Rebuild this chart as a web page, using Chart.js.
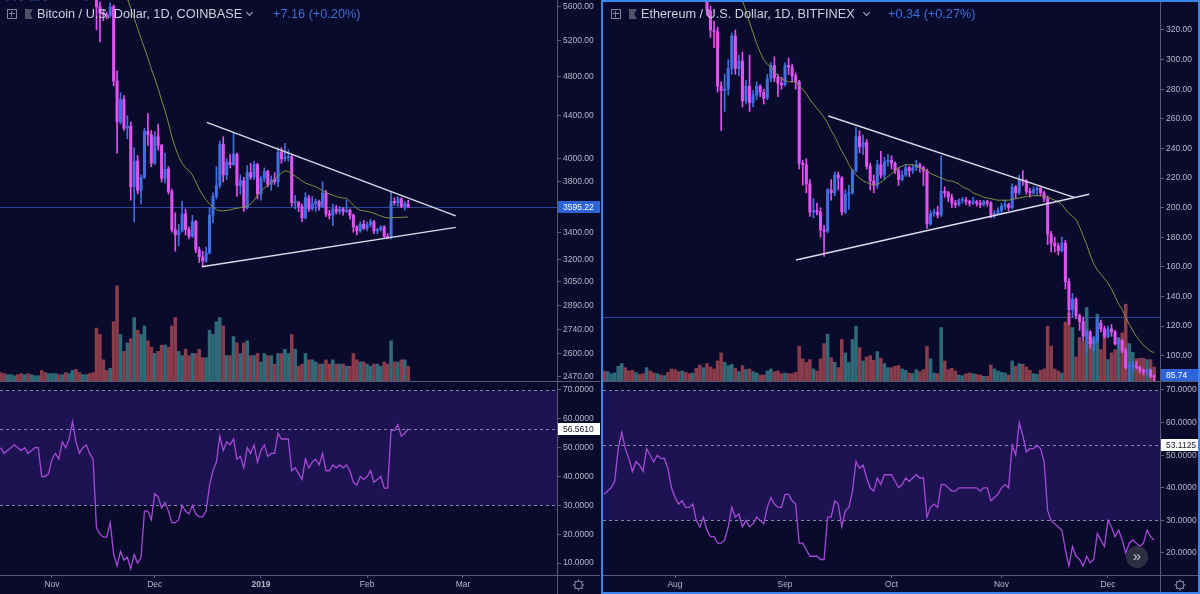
<!DOCTYPE html>
<html>
<head>
<meta charset="utf-8">
<title>BTC / ETH daily</title>
<script src="https://cdn.jsdelivr.net/npm/chart.js"></script>
<style>
html, body { margin: 0; padding: 0; }
body { width: 1200px; height: 594px; background: #0a0a2d; position: relative; overflow: hidden; font-family: "Liberation Sans", Arial, sans-serif; }
canvas { position: absolute; display: block; }
.line { position: absolute; background: #565a70; }
.legend { position: absolute; top: 7px; line-height: 14px; font-size: 12.7px; color: #cdd0dc; white-space: nowrap; }
.chg { position: absolute; top: 7px; line-height: 14px; font-size: 12.7px; color: #3c6fd8; white-space: nowrap; }
.box { position: absolute; top: 9px; width: 8px; height: 8px; border: 1px solid #80849a; }
.box:before { content: ''; position: absolute; left: 1px; top: 3px; width: 6px; height: 1px; background: #80849a; }
.box:after { content: ''; position: absolute; top: 1px; left: 3px; height: 6px; width: 1px; background: #80849a; }
.flag { position: absolute; top: 9px; width: 8px; height: 10px; background: #4f5368; clip-path: polygon(0 0, 100% 0, 65% 50%, 100% 100%, 0 100%); }
.chev { position: absolute; top: 10px; width: 4px; height: 4px; border-right: 1px solid #b0b3c2; border-bottom: 1px solid #b0b3c2; transform: rotate(45deg); }
#sel { position: absolute; left: 601px; top: 0; width: 599px; height: 594px; border: 2px solid #3d84ee; box-sizing: border-box; }
#more { position: absolute; left: 1126px; top: 546px; width: 22px; height: 22px; border-radius: 50%; background: #2c2f3f; color: #c3c6d2; font-size: 15px; line-height: 20px; text-align: center; }
</style>
</head>
<body>
<canvas id="btcPrice" width="600" height="381" style="left:0;top:0"></canvas>
<canvas id="btcRsi" width="600" height="213" style="left:0;top:381px"></canvas>
<canvas id="ethPrice" width="597" height="381" style="left:603px;top:0"></canvas>
<canvas id="ethRsi" width="597" height="213" style="left:603px;top:381px"></canvas>

<div class="line" style="left:0;top:381px;width:600px;height:1px"></div>
<div class="line" style="left:0;top:575px;width:600px;height:1px"></div>
<div class="line" style="left:557px;top:0;width:1px;height:594px"></div>
<div class="line" style="left:603px;top:381px;width:595px;height:1px"></div>
<div class="line" style="left:603px;top:575px;width:595px;height:1px"></div>
<div class="line" style="left:1160px;top:0;width:1px;height:594px"></div>

<div class="box" style="left:7px"></div>
<div class="flag" style="left:25px"></div>
<div class="legend" style="left:37px">Bitcoin / U.S. Dollar, 1D, COINBASE</div>
<div class="chev" style="left:247px"></div>
<div class="chg" style="left:273px">+7.16 (+0.20%)</div>

<div class="box" style="left:611px"></div>
<div class="flag" style="left:629px"></div>
<div class="legend" style="left:641px">Ethereum / U.S. Dollar, 1D, BITFINEX</div>
<div class="chev" style="left:864px"></div>
<div class="chg" style="left:888px">+0.34 (+0.27%)</div>

<div id="more">&raquo;</div>
<div id="sel"></div>

<script>
// ---------- Bitcoin, daily, 2018-10-17 .. 2019-02-13 ----------
const btcMonthIdx = [15, 45, 76, 107, 135];
const btcMonthLabels = ['Nov', 'Dec', '2019', 'Feb', 'Mar'];
const btcPriceTicks = [5600, 5200, 4800, 4400, 4000, 3800, 3400, 3200, 3050, 2890, 2740, 2600, 2470];
const btcRsiTicks = [70, 60, 50, 40, 30, 20, 10];

const btcOpen = [6540,6490,6430,6440,6460,6470,6450,6440,6460,6440,6450,6460,6460,6310,6300,6320,6370,6400,6370,6470,6430,6470,6540,6410,6350,6390,6400,6370,
  6330,5600,5520,5500,5490,5600,4750,4340,4560,4280,4300,3760,3980,3730,3840,4250,4220,
  3960,4200,4120,3830,3910,3720,3420,3380,3410,3540,3420,3370,3480,3270,3220,3190,3250,3530,3680,3770,4130,3860,3970,3950,4040,3770,3810,3590,3880,3840,3950,
  3700,3830,3890,3780,3820,3800,4060,4000,4010,4020,3630,3630,3600,3510,3670,3580,3620,3640,3600,3710,3540,3530,3580,3560,3580,3560,3570,3530,3440,3410,3460,
  3430,3460,3480,3410,3420,3440,3370,3360,3640,3630,3660,3600,3620];
const btcHigh = [6560,6510,6480,6470,6520,6490,6470,6520,6470,6480,6480,6480,6480,6330,6340,6390,6420,6410,6500,6480,6480,6560,6550,6420,6400,6420,6440,6380,
  6360,5660,5560,5530,5650,5620,4860,4630,4600,4400,4340,4100,4030,3860,4280,4420,4260,
  4250,4320,4130,4050,3930,3740,3550,3460,3640,3580,3440,3530,3490,3290,3260,3290,3590,3710,3930,4160,4200,4000,4040,4240,4050,3860,3840,3940,3960,3980,3960,
  3850,3920,3900,3850,3880,4100,4100,4140,4080,4040,3690,3640,3620,3710,3690,3680,3660,3650,3800,3730,3570,3620,3610,3600,3590,3650,3580,3540,3450,3480,3490,
  3480,3500,3490,3430,3450,3450,3390,3720,3670,3680,3670,3640,3650];
const btcLow = [6470,6400,6410,6420,6450,6430,6410,6430,6420,6420,6440,6440,6260,6280,6280,6310,6360,6340,6360,6410,6420,6460,6390,6330,6340,6350,6350,6300,
  5320,5180,5430,5450,5470,4700,4050,4320,4260,4180,3650,3480,3700,3620,3830,4120,3930,
  3950,4080,3800,3790,3700,3400,3260,3300,3400,3380,3350,3360,3250,3180,3150,3180,3240,3470,3660,3750,3800,3820,3920,3940,3680,3700,3560,3580,3820,3820,3660,
  3650,3800,3760,3730,3780,3760,3960,3980,3980,3600,3580,3560,3480,3500,3560,3570,3560,3570,3590,3520,3500,3450,3540,3540,3530,3550,3500,3400,3380,3400,3420,
  3410,3440,3390,3390,3410,3360,3350,3350,3610,3600,3590,3570,3590];
const btcClose = [6490,6430,6440,6460,6470,6450,6440,6460,6440,6450,6460,6460,6310,6300,6320,6370,6400,6370,6470,6430,6470,6540,6410,6350,6390,6400,6370,6330,
  5600,5520,5500,5490,5600,4750,4340,4560,4280,4300,3760,3980,3730,3840,4250,4220,3960,
  4200,4120,3830,3910,3720,3420,3380,3410,3540,3420,3370,3480,3270,3220,3190,3250,3530,3680,3770,4130,3860,3970,3950,4040,3770,3810,3590,3880,3840,3950,3700,
  3830,3890,3780,3820,3800,4060,4000,4010,4020,3630,3630,3600,3510,3670,3580,3620,3640,3600,3710,3540,3530,3580,3560,3580,3560,3570,3530,3440,3410,3460,3430,
  3460,3480,3410,3420,3440,3370,3360,3640,3630,3660,3600,3620,3595.22];
// volume, thousands of BTC
const btcVolume = [4,3.5,3,3,2.5,3,3.5,3,3.5,3,2.5,2.5,5,4,3.5,3.5,3.5,3,3,4,3.5,5,5.5,4,3,3,3.5,4,
  25,22,10,5,6,28,45,22,14,18,20,30,24,22,26,19,16,
  13,14,17,17,16,26,30,14,12,15,12,13,13,15,11,11,24,22,28,30,26,12,12,21,18,13,18,19,12,12,13,
  9,13,12,12,8,13,13,15,13,22,15,7,8,13,10,10,9,8,8,10,8,10,8,8,8,7,7,13,10,9,9,
  8,7,8,8,7,9,8,19,9,9,10,10,7];
const btcMA = [6500,6500,6495,6490,6488,6485,6482,6480,6478,6475,6472,6470,6465,6460,6452,6445,6440,6435,6430,6428,6425,6425,6425,6422,6420,6418,6415,6412,
  6370,6320,6270,6225,6180,6100,6000,5920,5830,5700,5580,5460,5340,5220,5110,5000,4880,
  4780,4670,4555,4450,4330,4200,4100,4020,3960,3920,3895,3860,3800,3740,3690,3650,3620,3597,3575,3565,3565,3568,3572,3580,3585,3590,3595,3600,3620,3650,3690,
  3720,3750,3770,3795,3820,3850,3875,3895,3890,3870,3850,3830,3810,3790,3780,3770,3760,3745,3730,3715,3700,3690,3680,3672,3668,3665,3640,3610,3585,3570,3565,
  3560,3555,3545,3535,3525,3515,3510,3510,3512,3513,3514,3515,3516];
const btcRSI = [50,48,49,50,51,50,49,50,48,49,50,50,40,40,41,
  46,48,46,52,50,53,59,52,48,50,51,48,46,
  22,20,19,19,24,13,9,14,11,12,8,13,10,12,28,28,25,
  34,33,29,31,28,24,24,25,30,28,27,30,27,26,26,28,37,42,45,54,49,52,51,53,46,47,43,50,48,51,45,
  49,51,47,48,48,55,53,53,53,42,43,41,39,46,43,45,46,44,48,42,42,44,43,44,43,44,42,38,37,40,39,
  40,42,38,39,40,36,36,56,56,58,54,55,56.56];
const btcUpperLine = [{ x: 60.2, y: 4336 }, { x: 132.9, y: 3526 }];
const btcLowerLine = [{ x: 58.7, y: 3150 }, { x: 132.9, y: 3437 }];

// ---------- Ethereum, daily, 2018-07-12 .. 2018-12-14 ----------
const ethMonthIdx = [20, 51, 81, 112, 142];
const ethMonthLabels = ['Aug', 'Sep', 'Oct', 'Nov', 'Dec'];
const ethPriceTicks = [320, 300, 280, 260, 240, 220, 200, 180, 160, 140, 120, 100];
const ethRsiTicks = [70, 60, 50, 40, 30, 20];

const ethOpen = [448,433,434,435,450,478,499,479,469,449,461,457,449,479,469,463,469,466,467,456,
  433,420,413,416,408,407,409,377,356,363,333,320,319,282,279,280,294,316,294,299,272,282,271,276,282,278,274,287,296,288,284,
  283,296,295,289,285,230,229,216,197,198,197,185,184,212,210,222,220,197,209,210,225,248,241,244,228,218,215,229,222,231,
  232,230,225,219,222,227,225,227,229,227,225,189,196,197,195,211,210,207,203,202,205,205,204,203,204,203,202,204,203,195,196,
  198,201,202,200,214,210,219,218,211,210,212,213,210,206,182,176,174,171,176,150,131,138,127,123,113,116,108,110,122,118,
  113,118,116,108,110,103,92,93,93,92,90,89,90,86];
const ethHigh = [450,445,440,455,482,505,505,482,475,465,470,462,485,482,475,472,472,472,468,457,
  436,425,418,420,412,415,412,379,370,367,336,326,322,285,290,300,318,320,303,305,286,303,279,285,283,280,290,298,302,290,288,
  298,301,297,291,286,232,233,219,206,203,200,188,213,219,224,224,221,212,215,226,254,252,249,246,230,222,232,238,234,236,
  235,231,227,225,229,228,229,232,230,228,226,198,199,201,235,214,211,209,205,206,207,207,205,207,205,205,205,205,204,198,200,
  203,205,203,216,215,222,225,219,213,214,214,214,211,208,184,180,176,180,178,152,142,139,128,126,118,117,113,126,124,120,
  120,121,117,112,111,105,95,96,96,93,91,91,91,87];
const ethLow = [425,425,428,433,447,470,470,460,443,445,455,443,447,465,458,455,462,460,445,425,
  413,408,400,402,400,402,372,350,350,330,315,308,278,252,265,276,290,290,289,268,270,265,268,273,275,270,273,285,285,275,280,
  282,290,285,280,226,215,210,194,193,195,180,167,183,205,208,212,195,196,199,209,224,237,236,226,212,210,213,220,219,228,
  226,223,215,218,221,221,223,225,224,215,186,188,194,193,194,207,204,200,200,201,203,202,201,202,201,200,201,201,193,193,195,
  196,199,198,199,206,209,215,209,207,209,208,208,204,175,170,170,168,170,145,121,126,125,117,110,102,105,103,109,116,112,
  112,113,107,105,102,91,83,89,91,88,87,87,85,83];
const ethClose = [433,434,435,450,478,499,479,469,449,461,457,449,479,469,463,469,466,467,456,433,
  420,413,416,408,407,409,377,356,364,333,320,319,282,279,280,294,316,294,299,272,282,271,276,282,278,274,287,296,288,284,283,
  296,295,289,285,230,229,216,197,198,197,185,184,212,210,222,220,197,209,210,225,248,241,244,228,218,215,229,222,231,232,
  230,225,219,222,227,225,227,229,227,225,189,196,197,195,211,210,207,203,202,205,205,204,203,204,203,202,204,203,195,196,198,
  201,202,200,214,210,219,218,211,210,212,213,210,206,182,176,174,171,176,150,131,138,127,123,113,116,108,110,122,118,113,
  118,116,108,110,103,92,93,93,92,90,89,90,86,85.74];
// volume, thousands of ETH
const ethVolume = [150,140,110,120,220,260,200,150,160,130,100,110,200,150,120,110,90,80,130,180,
  170,140,150,130,110,120,190,240,200,260,210,180,300,420,280,230,250,190,140,230,170,180,140,120,90,90,150,180,140,150,110,
  120,110,110,130,520,330,280,320,180,150,330,560,700,350,280,200,620,420,280,620,820,500,300,360,380,310,440,340,260,200,
  200,220,230,180,160,120,110,170,140,170,520,330,120,110,800,300,170,190,150,90,80,110,120,110,100,90,70,70,240,180,150,
  130,120,90,300,220,260,250,210,160,110,100,160,180,820,520,180,150,120,880,1020,800,360,650,590,1100,660,650,1000,470,660,
  320,420,470,650,720,1150,560,430,330,340,340,320,320,210];
const ethMA = [460,461,461,461,462,463,463,463,463,462,462,461,461,461,461,460,460,460,459,458,
  456,454,452,449,446,443,439,434,428,421,414,407,399,391,383,375,366,357,348,
  340,333,325,318,311,305,300,297,295,292,289,287,
  286,285,285,285,282,280,277,273,270,267,264,261,257,252,248,243,238,234,229,225,222,220,218,217,216,215.5,216,217,219,221,
  223,225,227,228,229,229,229,228,227,226,225,223,222,221,220,219,218,218,217,216,214,213,212,210,209,208,207,206.5,206,205.5,205,
  205,205,205,205.5,206,206.5,207,207.5,208,208,208,208,207.5,207,206,205,204,202,199,196,194,192,187,181,175,168,162,158,155,152,
  149,145,140,135,131,126,121,117,113,110,107,105,103,102];
const ethRSI = [38,39,40,42,52,57,52,49,45,48,47,45,52,50,48,50,49,49,46,40,
  37,35,36,34,34,35,30,28,31,27,25,25,23,23,24,28,34,31,32,28,30,28,29,31,30,29,34,37,35,34,34,
  38,38,36,35,23,23,21,19,19,19,18,18,31,31,36,35,28,33,34,39,48,46,47,43,40,39,43,41,44,44,
  44,42,40,41,43,42,43,44,43,43,31,34,35,34,41,41,40,39,39,40,40,40,40,40,40,39,40,40,36,37,38,
  40,41,40,53,50,60,56,51,52,52,53,52,48,33,30,29,28,27,21,16,22,19,18,16,19,17,18,26,24,22,
  30,28,25,27,24,20,23,24,23,22,23,27,25,24];
const ethUpperLine = [{ x: 63.2, y: 261.9 }, { x: 132.7, y: 206.7 }];
const ethLowerLine = [{ x: 54.1, y: 164.6 }, { x: 136.7, y: 209 }];

// ---------- drawing ----------
const FONT = '"Liberation Sans", Arial, sans-serif';
const AXIS_TEXT = '#b4b7c4';
const TICK_LINE = '#5c6076';
const UP = '#3f6fe0', DOWN = '#e052f2';
const VOL_UP = '#2f6a78', VOL_DOWN = '#8a3c4a';

const xy = arr => arr.map((v, i) => ({ x: i, y: v }));

function valueBox(ctx, chart, y, text, bg, fg) {
  const a = chart.chartArea;
  const h = 12;
  y = Math.min(Math.max(y, a.top + h / 2), a.bottom - h / 2);
  ctx.save();
  ctx.fillStyle = bg;
  ctx.fillRect(a.right + 1, Math.round(y - h / 2), chart.width - a.right - 1, h);
  ctx.fillStyle = fg;
  ctx.font = '8.5px ' + FONT;
  ctx.textBaseline = 'middle';
  ctx.fillText(text, a.right + 6, Math.round(y) + 0.5);
  ctx.restore();
}

function priceChart(id, p) {
  const up = i => p.close[i] >= p.open[i];
  const overlay = {
    id: 'priceOverlay',
    beforeDatasetsDraw(chart) {
      const { ctx, chartArea: a } = chart;
      const y = Math.round(chart.scales.y.getPixelForValue(p.lineValue)) + 0.5;
      ctx.save();
      ctx.strokeStyle = 'rgba(64,110,225,0.6)';
      ctx.lineWidth = 1;
      ctx.beginPath(); ctx.moveTo(a.left, y); ctx.lineTo(a.right, y); ctx.stroke();
      ctx.restore();
    },
    afterDraw(chart) {
      const y = chart.scales.y.getPixelForValue(p.lastValue);
      valueBox(chart.ctx, chart, y, p.lastValue.toFixed(2), '#2c64d8', '#ffffff');
    }
  };
  return new Chart(document.getElementById(id), {
    type: 'bar',
    data: {
      datasets: [
        { type: 'line', data: p.upperLine, borderColor: '#dcdce8', borderWidth: 1.4, pointRadius: 0, order: 1, yAxisID: 'y' },
        { type: 'line', data: p.lowerLine, borderColor: '#dcdce8', borderWidth: 1.4, pointRadius: 0, order: 1, yAxisID: 'y' },
        { type: 'line', data: xy(p.ma), borderColor: '#7f9140', borderWidth: 1, pointRadius: 0, order: 2, yAxisID: 'y' },
        { data: p.open.map((o, i) => ({ x: i, y: [o, p.close[i]] })), backgroundColor: c => up(c.dataIndex) ? UP : DOWN,
          barThickness: 2.4, minBarLength: 1, grouped: false, order: 3, yAxisID: 'y' },
        { data: p.low.map((l, i) => ({ x: i, y: [l, p.high[i]] })), backgroundColor: c => up(c.dataIndex) ? UP : DOWN,
          barThickness: 1, grouped: false, order: 4, yAxisID: 'y' },
        { data: xy(p.volume), backgroundColor: c => up(c.dataIndex) ? VOL_UP : VOL_DOWN,
          barThickness: 2.9, grouped: false, order: 5, yAxisID: 'yv' }
      ]
    },
    options: {
      responsive: false, animation: false, events: [],
      plugins: { legend: { display: false }, tooltip: { enabled: false } },
      scales: {
        x: { type: 'linear', min: p.xMin, max: p.xMax, display: false, offset: false },
        y: {
          type: p.yType, position: 'right', min: p.yMin, max: p.yMax,
          border: { display: false },
          grid: { drawOnChartArea: false, tickLength: 4, color: TICK_LINE },
          ticks: { color: AXIS_TEXT, font: { family: FONT, size: 8.5 }, padding: 2, autoSkip: false, callback: v => Number(v).toFixed(2) },
          afterBuildTicks: s => { s.ticks = p.yTicks.map(v => ({ value: v })); },
          afterFit: s => { s.width = p.axisWidth; s.paddingTop = 0; s.paddingBottom = 0; }
        },
        yv: { type: 'linear', display: false, min: 0, max: p.volMax }
      }
    },
    plugins: [overlay]
  });
}

function rsiChart(id, r) {
  const overlay = {
    id: 'rsiOverlay',
    beforeDatasetsDraw(chart) {
      const { ctx, chartArea: a } = chart;
      const ys = chart.scales.y;
      const yHi = Math.round(ys.getPixelForValue(70)) + 0.5;
      const yLo = Math.round(ys.getPixelForValue(30)) + 0.5;
      const yMark = Math.round(ys.getPixelForValue(r.mark)) + 0.5;
      ctx.save();
      ctx.fillStyle = '#1d1252';
      ctx.fillRect(a.left, yHi, a.right - a.left, yLo - yHi);
      ctx.strokeStyle = 'rgba(175,170,210,0.75)';
      ctx.lineWidth = 1;
      ctx.setLineDash([3, 3]);
      [yHi, yLo, yMark].forEach(y => { ctx.beginPath(); ctx.moveTo(a.left, y); ctx.lineTo(a.right, y); ctx.stroke(); });
      ctx.restore();
    },
    afterDraw(chart) {
      const { ctx, chartArea: a } = chart;
      valueBox(ctx, chart, chart.scales.y.getPixelForValue(r.mark), r.mark.toFixed(4), '#ffffff', '#131722');
      // settings gear
      const gx = a.right + (chart.width - a.right) / 2, gy = chart.height - 9;
      ctx.save();
      ctx.strokeStyle = '#8a8ea2';
      ctx.lineWidth = 1.1;
      ctx.beginPath(); ctx.arc(gx, gy, 3.8, 0, Math.PI * 2); ctx.stroke();
      for (let k = 0; k < 8; k++) {
        const t = k * Math.PI / 4;
        ctx.beginPath();
        ctx.moveTo(gx + Math.cos(t) * 3.8, gy + Math.sin(t) * 3.8);
        ctx.lineTo(gx + Math.cos(t) * 5.6, gy + Math.sin(t) * 5.6);
        ctx.stroke();
      }
      ctx.restore();
    }
  };
  return new Chart(document.getElementById(id), {
    type: 'line',
    data: { datasets: [{ data: xy(r.rsi), borderColor: '#a54ad6', borderWidth: 1.3, pointRadius: 0, tension: 0 }] },
    options: {
      responsive: false, animation: false, events: [],
      plugins: { legend: { display: false }, tooltip: { enabled: false } },
      scales: {
        x: {
          type: 'linear', min: r.xMin, max: r.xMax, offset: false,
          border: { display: false },
          grid: { drawOnChartArea: false, tickLength: 3, color: TICK_LINE },
          ticks: {
            color: AXIS_TEXT, padding: 2, maxRotation: 0, autoSkip: false,
            font: c => ({ family: FONT, size: 8.5, weight: c.index === r.boldIndex ? 'bold' : 'normal' }),
            callback: (v, i) => r.monthLabels[i]
          },
          afterBuildTicks: s => { s.ticks = r.monthIdx.map(v => ({ value: v })); },
          afterFit: s => { s.height = 19; s.paddingLeft = 0; s.paddingRight = 0; }
        },
        y: {
          position: 'right', min: r.yMin, max: r.yMax,
          border: { display: false },
          grid: { drawOnChartArea: false, tickLength: 4, color: TICK_LINE },
          ticks: { color: AXIS_TEXT, font: { family: FONT, size: 8.5 }, padding: 2, autoSkip: false, callback: v => Number(v).toFixed(4) },
          afterBuildTicks: s => { s.ticks = r.yTicks.map(v => ({ value: v })); },
          afterFit: s => { s.width = r.axisWidth; s.paddingTop = 0; s.paddingBottom = 0; }
        }
      }
    },
    plugins: [overlay]
  });
}

priceChart('btcPrice', {
  open: btcOpen, high: btcHigh, low: btcLow, close: btcClose, volume: btcVolume, ma: btcMA,
  upperLine: btcUpperLine, lowerLine: btcLowerLine,
  xMin: -0.18, xMax: 162.45, yType: 'logarithmic', yMin: 2446.6, yMax: 5683.6, yTicks: btcPriceTicks,
  volMax: 180, axisWidth: 43, lineValue: 3595.22, lastValue: 3595.22
});
rsiChart('btcRsi', {
  rsi: btcRSI, xMin: -0.18, xMax: 162.45, yMin: 5.84, yMax: 73.12, yTicks: btcRsiTicks,
  monthIdx: btcMonthIdx, monthLabels: btcMonthLabels, boldIndex: 2, axisWidth: 43, mark: 56.561
});
priceChart('ethPrice', {
  open: ethOpen, high: ethHigh, low: ethLow, close: ethClose, volume: ethVolume, ma: ethMA,
  upperLine: ethUpperLine, lowerLine: ethLowerLine,
  xMin: -0.29, xMax: 156.66, yType: 'linear', yMin: 82.84, yMax: 340.27, yTicks: ethPriceTicks,
  volMax: 5700, axisWidth: 40, lineValue: 126, lastValue: 85.74
});
rsiChart('ethRsi', {
  rsi: ethRSI, xMin: -0.29, xMax: 156.66, yMin: 13.25, yMax: 72.76, yTicks: ethRsiTicks,
  monthIdx: ethMonthIdx, monthLabels: ethMonthLabels, boldIndex: -1, axisWidth: 40, mark: 53.1125
});
</script>
</body>
</html>
